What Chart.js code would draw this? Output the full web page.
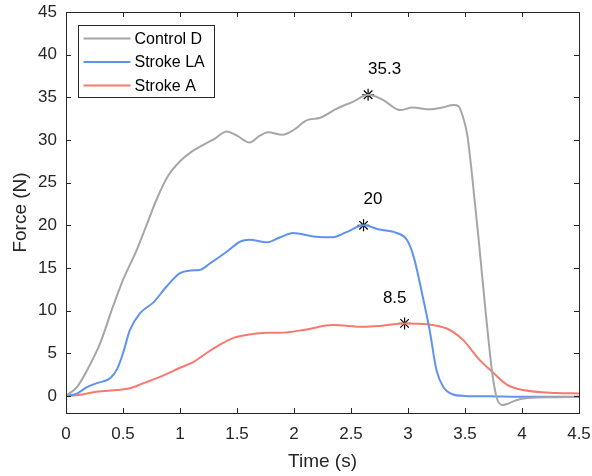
<!DOCTYPE html>
<html>
<head>
<meta charset="utf-8">
<script src="https://cdn.jsdelivr.net/npm/chart.js@4/dist/chart.umd.min.js"></script>
<style>
    body { margin: 0; background: #fff; }
    canvas { display: block; }
</style>
</head>
<body>
<canvas id="chartCanvas" width="592" height="476"></canvas>
<script>
// Force traces (N) over time (s)
const tControl = [0, 0.1, 0.2, 0.3, 0.41, 0.5, 0.62, 0.7, 0.8, 0.9, 1.0, 1.1, 1.2, 1.3, 1.41, 1.5, 1.61, 1.7, 1.77, 1.9, 2.0, 2.11, 2.23, 2.38, 2.52, 2.65, 2.78, 2.93, 3.04, 3.19, 3.3, 3.4, 3.44, 3.48, 3.52, 3.56, 3.62, 3.68, 3.74, 3.78, 3.83, 3.88, 3.95, 4.05, 4.3, 4.5]
const fControl = [0, 1.1, 3.4, 6.2, 10.4, 13.6, 17.1, 19.8, 23.2, 25.9, 27.5, 28.6, 29.4, 30.1, 31.0, 30.5, 29.7, 30.5, 30.9, 30.6, 31.2, 32.3, 32.6, 33.7, 34.5, 35.3, 34.7, 33.5, 33.8, 33.6, 33.8, 34.1, 34.0, 32.8, 30.6, 26.1, 18.3, 10.0, 2.6, -0.3, -1.05, -0.9, -0.5, -0.25, -0.15, -0.1]

const tStrokeLA = [0, 0.1, 0.18, 0.27, 0.39, 0.45, 0.5, 0.56, 0.65, 0.77, 0.88, 1.0, 1.09, 1.18, 1.26, 1.41, 1.53, 1.61, 1.76, 1.88, 1.99, 2.17, 2.34, 2.46, 2.61, 2.75, 2.9, 2.99, 3.05, 3.13, 3.19, 3.25, 3.31, 3.39, 3.5, 3.72, 4.0, 4.5]
const fStrokeLA = [0, 0.3, 1.0, 1.5, 2.1, 3.2, 5.0, 7.7, 9.7, 11.0, 12.8, 14.4, 14.7, 14.8, 15.5, 16.9, 18.1, 18.3, 18.0, 18.6, 19.1, 18.7, 18.6, 19.2, 20.0, 19.5, 19.1, 18.3, 16.3, 11.6, 7.7, 3.0, 1.05, 0.2, 0.0, -0.05, -0.1, -0.1]

const tStrokeA = [0, 0.12, 0.27, 0.45, 0.56, 0.68, 0.82, 1.0, 1.12, 1.23, 1.35, 1.47, 1.61, 1.76, 1.88, 2.11, 2.34, 2.61, 2.75, 2.97, 3.17, 3.34, 3.48, 3.63, 3.75, 3.87, 4.01, 4.3, 4.5]
const fStrokeA = [0, 0.1, 0.5, 0.7, 0.9, 1.5, 2.2, 3.3, 4.0, 5.0, 6.0, 6.8, 7.2, 7.4, 7.4, 7.8, 8.3, 8.1, 8.2, 8.5, 8.4, 7.9, 6.6, 4.2, 2.7, 1.3, 0.7, 0.35, 0.3]

// peak force of each trace, and where its text goes
const peakT = [2.65, 2.61, 2.97]
const peakF = [35.3, 20, 8.5]
const peakLabelT = [2.65, 2.61, 2.78]

const seriesNames = ['Control D', 'Stroke LA', 'Stroke A']
const xTicks = [0, 0.5, 1, 1.5, 2, 2.5, 3, 3.5, 4, 4.5]
const yTicks = [0, 5, 10, 15, 20, 25, 30, 35, 40, 45]

const FONT = "'Liberation Sans', Arial, sans-serif"
const AXIS_COLOR = '#262626'
const colors = ['#A6A6A6', '#5F93EE', '#F87A6E']

const toPoints = (ts, fs) => ts.map((t, i) => ({ x: t, y: fs[i] }))

// box, inward tick marks, peak values and legend
const framePlugin = {
    id: 'frame',
    afterDatasetsDraw(chart) {
        const { ctx, scales: { x, y } } = chart
        ctx.save()
        ctx.font = `17px ${FONT}`
        ctx.fillStyle = '#000'
        ctx.textAlign = 'left'
        ctx.textBaseline = 'middle'
        peakF.forEach((f, i) => {
            ctx.fillText(String(f), x.getPixelForValue(peakLabelT[i]), y.getPixelForValue(f + 3))
        })
        ctx.restore()
    },
    afterDraw(chart) {
        const { ctx, chartArea: a, scales: { x, y } } = chart
        const tick = 5
        ctx.save()
        ctx.strokeStyle = AXIS_COLOR
        ctx.lineWidth = 1
        ctx.beginPath()
        xTicks.forEach(v => {
            const px = Math.round(x.getPixelForValue(v)) + 0.5
            ctx.moveTo(px, a.bottom); ctx.lineTo(px, a.bottom - tick)
            ctx.moveTo(px, a.top); ctx.lineTo(px, a.top + tick)
        })
        yTicks.forEach(v => {
            const py = Math.round(y.getPixelForValue(v)) + 0.5
            ctx.moveTo(a.left, py); ctx.lineTo(a.left + tick, py)
            ctx.moveTo(a.right, py); ctx.lineTo(a.right - tick, py)
        })
        ctx.stroke()
        ctx.strokeRect(Math.round(a.left) + 0.5, Math.round(a.top) + 0.5,
            Math.round(a.right - a.left), Math.round(a.bottom - a.top))

        // legend
        const lx = Math.round(a.left) + 12.5
        const ly = Math.round(a.top) + 13.5
        ctx.fillStyle = '#fff'
        ctx.fillRect(lx, ly, 136, 72)
        ctx.strokeStyle = AXIS_COLOR
        ctx.strokeRect(lx, ly, 136, 72)
        ctx.font = `16px ${FONT}`
        ctx.textAlign = 'left'
        ctx.textBaseline = 'middle'
        chart.data.datasets.slice(0, 3).forEach((ds, i) => {
            const ry = ly + 13 + i * 23.5
            ctx.strokeStyle = ds.borderColor
            ctx.lineWidth = 2
            ctx.beginPath()
            ctx.moveTo(lx + 5, ry); ctx.lineTo(lx + 52, ry)
            ctx.stroke()
            ctx.fillStyle = '#000'
            ctx.fillText(ds.label, lx + 56, ry + 1)
        })
        ctx.restore()
    }
}

const lineSet = (label, points, color) => ({
    label: label,
    data: points,
    showLine: true,
    borderColor: color,
    borderWidth: 2,
    pointRadius: 0,
    cubicInterpolationMode: 'monotone',
    fill: false
})

const ctx = document.getElementById('chartCanvas').getContext('2d')
const myChart = new Chart(ctx, {
    type: 'scatter',
    data: {
        datasets: [
            lineSet(seriesNames[0], toPoints(tControl, fControl), colors[0]),
            lineSet(seriesNames[1], toPoints(tStrokeLA, fStrokeLA), colors[1]),
            lineSet(seriesNames[2], toPoints(tStrokeA, fStrokeA), colors[2]),
            {
                label: 'peaks',
                data: toPoints(peakT, peakF),
                pointStyle: 'star',
                pointRadius: 6,
                borderColor: '#000',
                backgroundColor: '#000',
                borderWidth: 1.2
            }
        ]
    },
    options: {
        responsive: false,
        animation: false,
        layout: { padding: { top: 12, right: 13, left: 0, bottom: 0 } },
        plugins: {
            legend: { display: false },
            tooltip: { enabled: false }
        },
        scales: {
            x: {
                type: 'linear',
                min: 0,
                max: 4.5,
                afterBuildTicks: s => { s.ticks = xTicks.map(v => ({ value: v })) },
                afterFit: s => { s.height = 63 },
                // tick marks are drawn by the plugin; tickLength only spaces the labels
                grid: { display: false, drawTicks: true, tickLength: 11 },
                border: { display: false },
                ticks: {
                    padding: 0,
                    color: AXIS_COLOR,
                    font: { family: FONT, size: 17 },
                    callback: v => String(v),
                    maxRotation: 0
                },
                title: {
                    display: true,
                    text: 'Time (s)',
                    color: AXIS_COLOR,
                    font: { family: FONT, size: 19 },
                    padding: { top: 0, bottom: 3 }
                }
            },
            y: {
                type: 'linear',
                min: -2,
                max: 45,
                afterBuildTicks: s => { s.ticks = yTicks.map(v => ({ value: v })) },
                afterFit: s => { s.width = 66 },
                grid: { display: false, drawTicks: true, tickLength: 9 },
                border: { display: false },
                ticks: {
                    padding: 0,
                    color: AXIS_COLOR,
                    font: { family: FONT, size: 17 },
                    callback: v => String(v)
                },
                title: {
                    display: true,
                    text: 'Force (N)',
                    color: AXIS_COLOR,
                    font: { family: FONT, size: 19 },
                    padding: { top: 9, bottom: 0 }
                }
            }
        }
    },
    plugins: [framePlugin]
})
</script>
</body>
</html>
